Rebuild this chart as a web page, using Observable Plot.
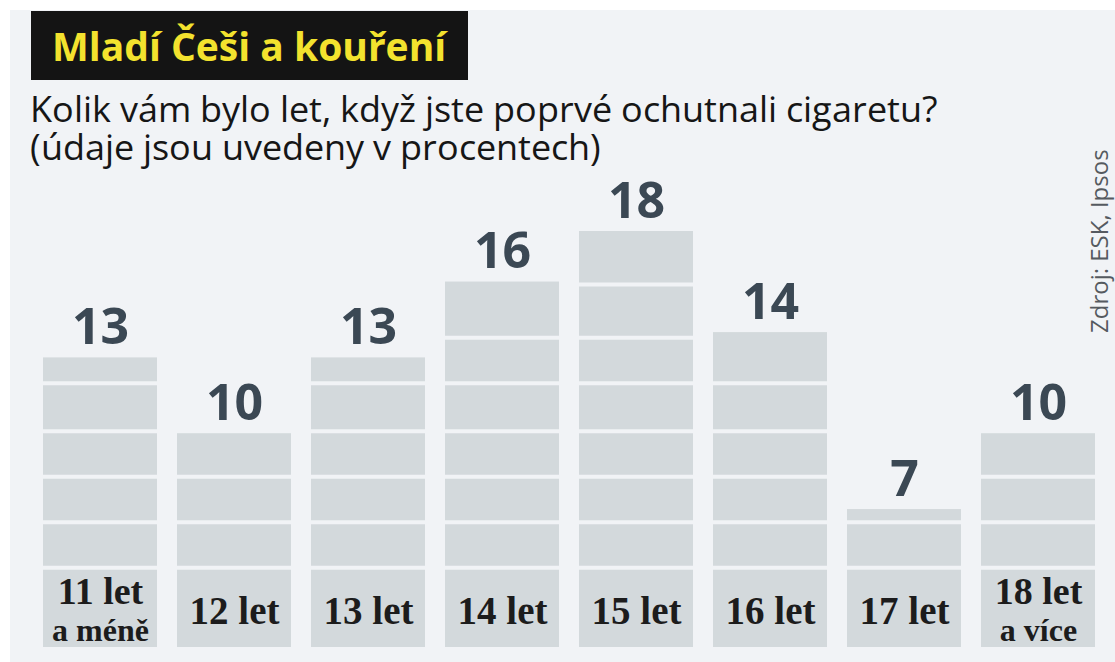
<!DOCTYPE html>
<html lang="cs">
<head>
<meta charset="utf-8">
<script src="https://cdn.jsdelivr.net/npm/d3@7"></script>
<script src="https://cdn.jsdelivr.net/npm/@observablehq/plot@0.6"></script>
<style>
  @font-face {
    font-family: "SubSans";
    src: local("Open Sans Regular"), local("OpenSans-Regular"), local("Open Sans");
    font-weight: 400;
    ascent-override: 85%;
    descent-override: 22%;
    line-gap-override: 0%;
  }
  html, body { margin: 0; padding: 0; background: #ffffff; overflow: hidden; }
  #wrap { position: relative; width: 1115px; height: 662px; overflow: hidden; }
  #bg { position: absolute; left: 10px; top: 10px; right: 0; bottom: 0; background: #f1f3f6; }
  #title { position: absolute; left: 31px; top: 11px; width: 437px; height: 69px; background: #141414;
           box-sizing: border-box; padding-left: 21px; font-family: "Open Sans", sans-serif; font-weight: 700;
           font-size: 39px; line-height: 69px; color: #f3e22e; white-space: nowrap; }
  .sub { position: absolute; left: 30px; height: 38px; font-family: "SubSans", "Open Sans", sans-serif; font-weight: 400;
         font-size: 35.5px; line-height: 38px; color: #161616; white-space: nowrap; }
  #sub1 { top: 92px; }
  #sub2 { top: 130px; }
  #chart { position: absolute; left: 0; top: 160px; }
  #source { position: absolute; left: 1087px; top: 333px; transform-origin: 0 0; transform: rotate(-90deg);
            font-family: "Open Sans", sans-serif; font-size: 24px; line-height: 24px; color: #555a60; white-space: nowrap; }
</style>
</head>
<body>
<div id="wrap">
  <div id="bg"></div>
  <div id="title">Mladí Češi a kouření</div>
  <div class="sub" id="sub1">Kolik vám bylo let, když jste poprvé ochutnali cigaretu?</div>
  <div class="sub" id="sub2">(údaje jsou uvedeny v procentech)</div>
  <div id="chart"></div>
  <div id="source">Zdroj: ESK, Ipsos</div>
</div>
<script>
// Data
const categories = ["11 let\na méně", "12 let", "13 let", "14 let", "15 let", "16 let", "17 let", "18 let\na více"];
const values = [13, 10, 13, 16, 18, 14, 7, 10];
// decorative horizontal band lines inside the bars (in value units)
const stripeLevels = [4.7, 6.5, 8.3, 10.1, 12, 13.8, 15.9];

const table = categories.map((c, i) => {
  const [line1, line2] = c.split("\n");
  return {category: c, value: values[i], line1, line2};
});
const singles = table.filter(d => d.line2 === undefined);
const doubles = table.filter(d => d.line2 !== undefined);
const stripes = table.flatMap(d => stripeLevels.filter(l => l < d.value - 0.3).map(l => ({category: d.category, level: l})));

const barColor = "#d3d9dc";
const bgColor = "#f1f3f6";
const labelFont = {fontFamily: "Liberation Serif", fontWeight: 700, fill: "#1c1c1c"};

const chart = Plot.plot({
  width: 1115,
  height: 487,
  marginTop: 0,
  marginBottom: 0,
  marginLeft: 22,
  marginRight: 0,
  style: {background: "transparent", overflow: "hidden"},
  x: {domain: categories, padding: 0.15, axis: null},
  y: {domain: [0, 18], range: [526, 71], axis: null},
  marks: [
    Plot.barY(table, {x: "category", y: "value", fill: barColor, clip: true}),
    Plot.tickY(stripes, {x: "category", y: "level", stroke: bgColor, strokeWidth: 4, clip: true}),
    Plot.text(table, {
      x: "category", y: "value", text: d => String(d.value),
      lineAnchor: "bottom", dy: -14,
      fontFamily: "Open Sans", fontWeight: 700, fontSize: 50, fill: "#3b4854"
    }),
    Plot.text(singles, {
      x: "category", text: "line1",
      frameAnchor: "bottom", lineAnchor: "middle", dy: -36,
      fontSize: 39, ...labelFont
    }),
    Plot.text(doubles, {
      x: "category", text: "line1",
      frameAnchor: "bottom", lineAnchor: "bottom", dy: -44,
      fontSize: 38, ...labelFont
    }),
    Plot.text(doubles, {
      x: "category", text: "line2",
      frameAnchor: "bottom", lineAnchor: "bottom", dy: -7,
      fontSize: 32, ...labelFont
    })
  ]
});
document.getElementById("chart").appendChild(chart);
</script>
</body>
</html>
